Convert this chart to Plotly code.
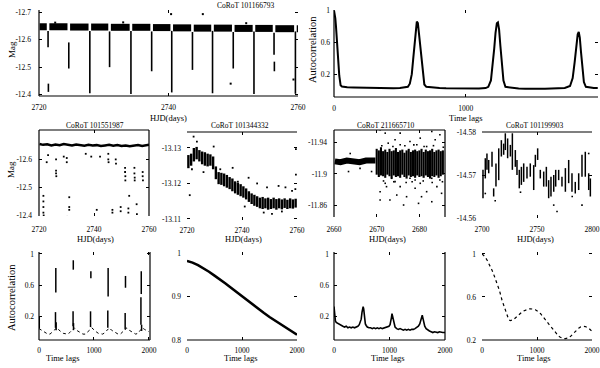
import plotly.graph_objects as go

FONT = 'Liberation Serif'
W, H = 600, 368

# ---- CoRoT 101166793 (top left): baseline pieces and eclipse dips ----
a_seg_start = [2720.1, 2721.6, 2724.8, 2728.05, 2731.1, 2734.4, 2737.6, 2740.7, 2743.9, 2747.0, 2750.2, 2753.4, 2756.5, 2759.8]
a_seg_end = [2721.2, 2724.4, 2727.65, 2730.7, 2734.0, 2737.2, 2740.3, 2743.5, 2746.6, 2749.8, 2753.0, 2756.1, 2759.4, 2760.0]
a_seg_mag = [-12.647, -12.647, -12.646, -12.646, -12.645, -12.645, -12.644, -12.643, -12.642, -12.642, -12.641, -12.641, -12.640, -12.640]
a_dip_t = [2721.4, 2721.45, 2724.6, 2727.85, 2730.9, 2734.2, 2737.4, 2740.5, 2743.7, 2746.8, 2750.0, 2753.2, 2756.3, 2756.35, 2759.6]
a_dip_top = [-12.632, -12.44, -12.59, -12.632, -12.63, -12.632, -12.63, -12.632, -12.628, -12.632, -12.628, -12.63, -12.625, -12.52, -12.63]
a_dip_bot = [-12.572, -12.41, -12.495, -12.405, -12.50, -12.402, -12.485, -12.408, -12.49, -12.405, -12.495, -12.402, -12.545, -12.485, -12.403]
a_pts_t = [2740.4, 2745.3, 2749.6, 2759.3, 2722.5, 2733.0, 2752.0]
a_pts_mag = [-12.693, -12.693, -12.440, -12.455, -12.662, -12.663, -12.660]

# ---- top right autocorrelation ----
b_lag = [0, 5, 10, 15, 20, 25, 30, 35, 40, 45,
         50, 60, 80, 100, 150, 200, 250, 300, 350, 400,
         450, 500, 540, 560, 575, 590, 600, 610, 620, 628,
         636, 645, 655, 665, 675, 685, 700, 750, 800, 850,
         900, 950, 1000, 1050, 1100, 1150, 1170, 1190, 1205, 1215,
         1225, 1235, 1243, 1252, 1262, 1272, 1285, 1300, 1350, 1400,
         1450, 1500, 1550, 1600, 1650, 1700, 1750, 1790, 1810, 1825,
         1838, 1848, 1856, 1864, 1873, 1883, 1895, 1910, 1940, 1970,
         2000]
b_acf = [1.0, 0.96, 0.9, 0.8, 0.7, 0.58, 0.44, 0.3, 0.18, 0.1,
         0.06, 0.045, 0.04, 0.035, 0.033, 0.03, 0.028, 0.025, 0.022, 0.022,
         0.024, 0.025, 0.03, 0.04, 0.08, 0.2, 0.38, 0.58, 0.76, 0.86,
         0.84, 0.7, 0.5, 0.3, 0.15, 0.07, 0.04, 0.03, 0.025, 0.022,
         0.02, 0.02, 0.022, 0.02, 0.02, 0.025, 0.04, 0.12, 0.32, 0.52,
         0.72, 0.84, 0.85, 0.76, 0.55, 0.33, 0.12, 0.04, 0.025, 0.018,
         0.015, 0.012, 0.012, 0.015, 0.018, 0.02, 0.025, 0.05, 0.15, 0.35,
         0.55, 0.7, 0.73, 0.66, 0.48, 0.28, 0.1, 0.04, 0.028, 0.025,
         0.025]

# ---- CoRoT 101551987 ----
c_band_t = [2720.2, 2721.5, 2723, 2724.5, 2726, 2727.5, 2729, 2730.5, 2732, 2733.5,
            2735, 2736.5, 2738, 2739.5, 2741, 2742.5, 2744, 2745.5, 2747, 2748.5,
            2750, 2751.5, 2753, 2754.5, 2756, 2757.5, 2759, 2760]
c_band_mag = [-12.655, -12.652, -12.654, -12.650, -12.653, -12.651, -12.655, -12.652, -12.650, -12.653,
              -12.651, -12.649, -12.652, -12.650, -12.651, -12.648, -12.650, -12.652, -12.649, -12.651,
              -12.648, -12.650, -12.647, -12.649, -12.651, -12.648, -12.650, -12.652]
c_pts_t = [2721.6, 2721.6, 2721.6, 2721.6, 2721.7, 2722.8, 2726.2, 2726.2, 2726.2, 2726.3,
           2730.1, 2730.1, 2731.0, 2731.0, 2731.0, 2730.3, 2741.0, 2742.2, 2745.2, 2745.2,
           2745.3, 2746.7, 2746.7, 2747.9, 2748.0, 2749.7, 2749.7, 2751.3, 2751.3, 2751.4,
           2751.4, 2752.8, 2752.5, 2752.5, 2754.7, 2754.7, 2754.8, 2754.8, 2755.5, 2755.6,
           2757.7, 2757.7, 2757.8, 2729.0, 2737.0, 2739.0, 2723.3]
c_pts_mag = [-12.47, -12.45, -12.43, -12.41, -12.40, -12.59, -12.60, -12.56, -12.55, -12.54,
             -12.605, -12.59, -12.465, -12.43, -12.42, -12.395, -12.42, -12.61, -12.62, -12.60,
             -12.59, -12.42, -12.41, -12.60, -12.585, -12.43, -12.415, -12.57, -12.555, -12.54,
             -12.525, -12.47, -12.425, -12.41, -12.57, -12.55, -12.535, -12.525, -12.44, -12.405,
             -12.555, -12.54, -12.525, -12.61, -12.62, -12.61, -12.615]

# ---- CoRoT 101344332: daily spread of the points ----
d_t = [2720.5, 2721.5, 2722.5, 2723.5, 2724.5, 2725.5, 2726.5, 2727.5, 2728.5, 2729.5,
       2730.5, 2731.5, 2732.5, 2733.5, 2734.5, 2735.5, 2736.5, 2737.5, 2738.5, 2739.5,
       2740.5, 2741.5, 2742.5, 2743.5, 2744.5, 2745.5, 2746.5, 2747.5, 2748.5, 2749.5,
       2750.5, 2751.5, 2752.5, 2753.5, 2754.5, 2755.5, 2756.5, 2757.5, 2758.5, 2759.5]
d_top = [-13.1280, -13.1284, -13.1300, -13.1303, -13.1294, -13.1290, -13.1288, -13.1284, -13.1282, -13.1276,
         -13.1248, -13.1232, -13.1230, -13.1228, -13.1224, -13.1218, -13.1214, -13.1206, -13.1202, -13.1198,
         -13.1192, -13.1186, -13.1178, -13.1172, -13.1168, -13.1164, -13.1160, -13.1162, -13.1158, -13.1160,
         -13.1156, -13.1160, -13.1156, -13.1158, -13.1155, -13.1158, -13.1154, -13.1158, -13.1155, -13.1157]
d_bot = [-13.1243, -13.1250, -13.1262, -13.1268, -13.1262, -13.1254, -13.1250, -13.1248, -13.1250, -13.1240,
         -13.1212, -13.1198, -13.1196, -13.1192, -13.1188, -13.1184, -13.1178, -13.1172, -13.1168, -13.1164,
         -13.1160, -13.1155, -13.1148, -13.1142, -13.1137, -13.1134, -13.1130, -13.1128, -13.1130, -13.1126,
         -13.1128, -13.1130, -13.1126, -13.1130, -13.1127, -13.1131, -13.1128, -13.1130, -13.1129, -13.1132]
d_pts_t = [2722.4, 2723.6, 2721.8, 2729.7, 2732.1, 2736.6, 2742.4, 2745.5, 2749.1, 2753.3, 2755.8,
           2758.2, 2759.4, 2747.9, 2750.9, 2754.5, 2721.0, 2759.6, 2759.6, 2726.0, 2738.5, 2741.0]
d_pts_mag = [-13.1332, -13.1318, -13.1240, -13.1304, -13.1240, -13.1244, -13.1216, -13.1200, -13.1189, -13.1193, -13.1189,
             -13.1179, -13.1184, -13.1118, -13.1114, -13.1121, -13.1167, -13.1297, -13.1225, -13.1232, -13.1205, -13.1135]

# ---- CoRoT 211665710 ----
e1_t = [2660.2, 2661.5, 2663, 2664.5, 2666, 2667.5, 2669, 2669.7]
e1_mag = [-11.916, -11.915, -11.917, -11.916, -11.915, -11.917, -11.916, -11.917]
e2_t = [2670.0, 2670.5, 2671.0, 2671.5, 2672.0, 2672.5, 2673.0, 2673.5, 2674.0, 2674.5,
        2675.0, 2675.5, 2676.0, 2676.5, 2677.0, 2677.5, 2678.0, 2678.5, 2679.0, 2679.5,
        2680.0, 2680.5, 2681.0, 2681.5, 2682.0, 2682.5, 2683.0, 2683.5, 2684.0, 2684.5,
        2685.0, 2685.5]
e2_top = [-11.932, -11.930, -11.934, -11.929, -11.931, -11.928, -11.932, -11.929, -11.930, -11.933,
          -11.928, -11.930, -11.931, -11.927, -11.930, -11.932, -11.928, -11.930, -11.931, -11.929,
          -11.930, -11.932, -11.928, -11.931, -11.929, -11.930, -11.932, -11.928, -11.930, -11.931,
          -11.929, -11.930]
e2_bot = [-11.899, -11.896, -11.898, -11.897, -11.895, -11.899, -11.897, -11.894, -11.898, -11.896,
          -11.897, -11.895, -11.899, -11.896, -11.894, -11.898, -11.896, -11.897, -11.895, -11.898,
          -11.896, -11.897, -11.895, -11.898, -11.896, -11.894, -11.897, -11.896, -11.898, -11.895,
          -11.897, -11.899]
e_pts_t = [2670.8, 2672.0, 2675.5, 2677.8, 2680.2, 2682.9, 2683.7, 2684.8, 2672.7, 2674.3,
           2679.4, 2681.7, 2675.5, 2670.8, 2672.0, 2673.1, 2674.3, 2675.5, 2677.0, 2677.8,
           2679.0, 2680.2, 2681.7, 2682.9, 2684.1, 2685.2, 2679.8, 2676.3, 2672.3, 2670.8,
           2684.8, 2673.5, 2682.9, 2679.0, 2680.5, 2674.7, 2671.2, 2673.8, 2676.6, 2678.7,
           2681.1, 2683.3, 2685.6, 2671.6, 2674.0, 2676.9, 2678.3, 2680.9, 2683.0, 2685.4,
           2663.4, 2666.1, 2668.8, 2663.8]
e_pts_mag = [-11.9563, -11.9520, -11.9520, -11.9413, -11.9456, -11.9541, -11.9435, -11.9499, -11.9392, -11.9435,
             -11.9371, -11.9349, -11.9371, -11.8773, -11.8880, -11.8667, -11.8901, -11.8837, -11.8709, -11.8944,
             -11.8816, -11.8880, -11.8773, -11.8645, -11.8837, -11.8752, -11.8624, -11.8603, -11.8837, -11.8667,
             -11.8923, -11.8944, -11.8944, -11.8923, -11.8709, -11.8730, -11.936, -11.935, -11.936, -11.937,
             -11.935, -11.936, -11.934, -11.891, -11.890, -11.889, -11.890, -11.891, -11.889, -11.890,
             -11.903, -11.907, -11.903, -11.926]

# ---- CoRoT 101199903 ----
f_t = [2700.9, 2703.0, 2704.5, 2706.1, 2709.1, 2710.6, 2712.7, 2715.2, 2717.6, 2719.7,
       2721.2, 2723.3, 2725.8, 2727.6, 2730.3, 2731.8, 2733.9, 2735.8, 2737.9, 2740.9,
       2743.9, 2747.0, 2748.5, 2750.6, 2753.0, 2756.1, 2758.5, 2760.6, 2762.7, 2765.2,
       2767.0, 2769.7, 2772.7, 2775.8, 2778.8, 2781.8, 2784.8, 2787.9, 2790.9, 2793.9,
       2797.0, 2798.5]
f_top = [-14.5712, -14.5739, -14.5750, -14.5735, -14.5754, -14.5669, -14.5727, -14.5762, -14.5781, -14.5773,
         -14.5797, -14.5785, -14.5770, -14.5797, -14.5758, -14.5735, -14.5712, -14.5719, -14.5727, -14.5719,
         -14.5727, -14.5723, -14.5747, -14.5762, -14.5712, -14.5708, -14.5719, -14.5688, -14.5696, -14.5700,
         -14.5712, -14.5712, -14.5696, -14.5716, -14.5735, -14.5704, -14.5684, -14.5704, -14.5747, -14.5754,
         -14.5704, -14.5692]
f_bot = [-14.5646, -14.5692, -14.5712, -14.5704, -14.5719, -14.5650, -14.5673, -14.5688, -14.5743, -14.5747,
         -14.5758, -14.5739, -14.5743, -14.5712, -14.5719, -14.5700, -14.5669, -14.5677, -14.5684, -14.5692,
         -14.5696, -14.5665, -14.5719, -14.5735, -14.5692, -14.5673, -14.5673, -14.5646, -14.5650, -14.5661,
         -14.5673, -14.5688, -14.5673, -14.5661, -14.5681, -14.5661, -14.5657, -14.5665, -14.5696, -14.5696,
         -14.5665, -14.5650]
f_pts_t = [2765.2, 2768.2, 2790.9, 2797.0, 2703.0, 2712.0, 2735.0, 2782.0]
f_pts_mag = [-14.5630, -14.5615, -14.5630, -14.5750, -14.5657, -14.5640, -14.5660, -14.5650]

# ---- bottom row autocorrelations ----
g_base_lag = [0, 40, 80, 120, 160, 200, 240, 280, 320, 360,
              400, 440, 480, 520, 560, 600, 640, 680, 720, 760,
              800, 840, 880, 920, 960, 1000, 1040, 1080, 1120, 1160,
              1200, 1240, 1280, 1320, 1360, 1400, 1440, 1480, 1520, 1560,
              1600, 1640, 1680, 1720, 1760, 1800, 1840, 1880, 1920, 1960,
              2000]
g_base_acf = [0.05, 0.03, 0.01, -0.01, -0.02, -0.02, 0.0, 0.03, 0.06, 0.03,
              0.01, -0.01, -0.02, -0.02, 0.0, 0.03, 0.06, 0.03, 0.01, -0.01,
              -0.02, -0.02, 0.0, 0.03, 0.06, 0.03, 0.01, -0.01, -0.02, -0.02,
              0.0, 0.03, 0.06, 0.03, 0.01, -0.01, -0.02, -0.02, 0.01, 0.04,
              0.06, 0.03, 0.01, -0.01, -0.02, -0.01, 0.03, 0.06, 0.04, 0.02,
              0.01]
g_sp_lag = [5, 300, 306, 312, 620, 624, 628, 938, 944, 1252, 1258, 1568, 1574, 1855, 1861, 1867]
g_sp_lo = [0.05, 0.06, 0.51, 0.03, 0.08, 0.80, 0.03, 0.07, 0.69, 0.06, 0.46, 0.04, 0.57, 0.10, 0.49, 0.02]
g_sp_hi = [0.21, 0.26, 0.82, 0.13, 0.27, 0.92, 0.12, 0.27, 0.78, 0.28, 0.82, 0.25, 0.72, 0.45, 0.78, 0.10]

h_lag = [0, 100, 200, 300, 400, 500, 600, 700, 800, 900, 1000,
         1100, 1200, 1300, 1400, 1500, 1600, 1700, 1800, 1900, 2000]
h_acf = [0.982, 0.978, 0.972, 0.965, 0.957, 0.948, 0.940, 0.930, 0.920, 0.910, 0.900,
         0.890, 0.881, 0.872, 0.862, 0.853, 0.845, 0.836, 0.828, 0.820, 0.812]

i_lag = [0, 8, 16, 25, 40, 60, 80, 100, 130, 160,
         190, 220, 250, 280, 310, 340, 370, 400, 430, 455,
         475, 490, 505, 515, 525, 535, 545, 555, 565, 580,
         600, 630, 660, 690, 720, 750, 780, 810, 840, 870,
         900, 930, 960, 990, 1010, 1025, 1035, 1045, 1055, 1065,
         1080, 1100, 1130, 1160, 1190, 1220, 1250, 1280, 1310, 1340,
         1370, 1400, 1430, 1460, 1490, 1520, 1545, 1565, 1580, 1590,
         1600, 1615, 1635, 1660, 1690, 1720, 1750, 1780, 1810, 1840,
         1870, 1900, 1930, 1960, 2000]
i_acf = [0.33, 0.22, 0.17, 0.15, 0.13, 0.12, 0.11, 0.10, 0.09, 0.08,
         0.07, 0.08, 0.06, 0.07, 0.06, 0.07, 0.06, 0.07, 0.08, 0.10,
         0.13, 0.17, 0.26, 0.31, 0.33, 0.30, 0.22, 0.15, 0.11, 0.09,
         0.07, 0.06, 0.06, 0.05, 0.06, 0.05, 0.06, 0.05, 0.06, 0.05,
         0.06, 0.06, 0.07, 0.08, 0.10, 0.14, 0.19, 0.24, 0.21, 0.15,
         0.10, 0.07, 0.05, 0.04, 0.05, 0.04, 0.03, 0.04, 0.03, 0.04,
         0.03, 0.04, 0.04, 0.05, 0.06, 0.08, 0.11, 0.16, 0.21, 0.22,
         0.19, 0.13, 0.08, 0.05, 0.03, 0.02, 0.01, 0.00, 0.01, 0.00,
         0.00, 0.01, 0.00, 0.00, 0.00]

j_lag = [0, 45, 91, 136, 182, 227, 273, 318, 364, 394,
         424, 455, 485, 515, 545, 576, 606, 636, 667, 697,
         727, 758, 788, 818, 848, 879, 909, 939, 970, 1000,
         1030, 1061, 1091, 1121, 1152, 1182, 1212, 1242, 1273, 1303,
         1333, 1364, 1394, 1424, 1455, 1485, 1515, 1545, 1576, 1606,
         1636, 1667, 1697, 1727, 1758, 1788, 1818, 1848, 1879, 1909,
         1939, 1970, 2000]
j_acf = [1.0, 0.98, 0.944, 0.90, 0.85, 0.79, 0.73, 0.66, 0.57, 0.52,
         0.47, 0.42, 0.39, 0.38, 0.382, 0.39, 0.405, 0.42, 0.435, 0.45,
         0.46, 0.47, 0.478, 0.484, 0.488, 0.49, 0.49, 0.487, 0.482, 0.475,
         0.462, 0.447, 0.43, 0.41, 0.39, 0.37, 0.35, 0.33, 0.31, 0.29,
         0.27, 0.25, 0.235, 0.225, 0.217, 0.213, 0.213, 0.215, 0.22, 0.232,
         0.248, 0.265, 0.283, 0.298, 0.31, 0.32, 0.325, 0.327, 0.325, 0.32,
         0.31, 0.295, 0.28]


def vsegs(t, lo, hi):
    xs, ys = [], []
    for ti, a, b in zip(t, lo, hi):
        xs += [ti, ti, None]
        ys += [a, b, None]
    return xs, ys


def hsegs(t0, t1, m):
    xs, ys = [], []
    for a, b, v in zip(t0, t1, m):
        xs += [a, b, None]
        ys += [v, v, None]
    return xs, ys


# panel boxes in pixels (left, right, top, bottom), ranges, ticks, visible borders
panels = {
    1: dict(box=(39, 298, 10, 96), xr=[2720, 2760], yr=[-12.395, -12.708],
            xt=[2720, 2740, 2760], yt=[-12.7, -12.6, -12.5, -12.4], sides='lb', xs=5, ys=7),
    2: dict(box=(334, 598, 10, 97), xr=[0, 2002], yr=[-0.0875, 1.006],
            xt=[0, 1000, 2000], yt=[1, 0.6, 0.2], sides='lb', xs=5, ys=3),
    3: dict(box=(39, 149, 130, 216), xr=[2720, 2760], yr=[-12.398, -12.705],
            xt=[2720, 2740, 2760], yt=[-12.6, -12.5, -12.4], sides='ltr', xs=7, ys=6),
    4: dict(box=(187, 297, 132, 220), xr=[2720, 2760], yr=[-13.1097, -13.1345],
            xt=[2720, 2740, 2760], yt=[-13.13, -13.12, -13.11], sides='t', xs=4, ys=5),
    5: dict(box=(334, 445, 130, 217), xr=[2660, 2686], yr=[-11.845, -11.956],
            xt=[2660, 2670, 2680], yt=[-11.94, -11.9, -11.86], sides='ltr', xs=6, ys=6),
    6: dict(box=(482, 592, 132, 218), xr=[2700, 2800], yr=[-14.56, -14.58],
            xt=[2700, 2750, 2800], yt=[-14.58, -14.57, -14.56], sides='t', xs=5, ys=5),
    7: dict(box=(39, 150, 252, 340), xr=[0, 2020], yr=[-0.095, 1.025],
            xt=[0, 1000, 2000], yt=[1, 0.6, 0.2], sides='lbr', xs=4, ys=4),
    8: dict(box=(187, 297, 252, 340), xr=[0, 2000], yr=[0.8, 1.0023],
            xt=[0, 1000, 2000], yt=[1, 0.9, 0.8], sides='b', xs=4, ys=5),
    9: dict(box=(334, 445, 252, 340), xr=[0, 2000], yr=[-0.095, 1.025],
            xt=[0, 1000, 2000], yt=[1, 0.6, 0.2], sides='lbr', xs=4, ys=4),
    10: dict(box=(482, 592, 252, 340), xr=[0, 2000], yr=[0.2, 1.0185],
             xt=[0, 1000, 2000], yt=[1, 0.6, 0.2], sides='b', xs=4, ys=5),
}


def ax(k, letter):
    return letter if k == 1 else f'{letter}{k}'


fig = go.Figure()
BLACK = 'black'


def line(k, x, y, width=1.5, dash=None):
    fig.add_trace(go.Scatter(x=x, y=y, mode='lines', xaxis=ax(k, 'x'), yaxis=ax(k, 'y'),
                             line=dict(color=BLACK, width=width, dash=dash),
                             connectgaps=False, showlegend=False, hoverinfo='skip'))


def dots(k, x, y, size=2):
    fig.add_trace(go.Scatter(x=x, y=y, mode='markers', xaxis=ax(k, 'x'), yaxis=ax(k, 'y'),
                             marker=dict(color=BLACK, size=size, symbol='square', line=dict(width=0)),
                             showlegend=False, hoverinfo='skip'))


# 1 light curve
x, y = hsegs(a_seg_start, a_seg_end, a_seg_mag)
line(1, x, y, width=7)
x, y = vsegs(a_dip_t, a_dip_top, a_dip_bot)
line(1, x, y, width=1.6)
dots(1, a_pts_t, a_pts_mag)
# 2 autocorrelation
line(2, b_lag, b_acf, width=2)
# 3
line(3, c_band_t, c_band_mag, width=2.5)
dots(3, c_pts_t, c_pts_mag, size=1.8)
# 4
x, y = vsegs(d_t, d_top, d_bot)
line(4, x, y, width=2.4)
dots(4, d_pts_t, d_pts_mag, size=1.8)
# 5
line(5, e1_t, e1_mag, width=6)
x, y = vsegs(e2_t, e2_top, e2_bot)
line(5, x, y, width=2.1)
dots(5, e_pts_t, e_pts_mag, size=1.6)
# 6
x, y = vsegs(f_t, f_top, f_bot)
line(6, x, y, width=1.5)
dots(6, f_pts_t, f_pts_mag, size=1.6)
# 7
line(7, g_base_lag, g_base_acf, width=1, dash='dot')
x, y = vsegs(g_sp_lag, g_sp_lo, g_sp_hi)
line(7, x, y, width=1.5)
# 8
line(8, h_lag, h_acf, width=2.5)
# 9
line(9, i_lag, i_acf, width=1.6)
# 10
line(10, j_lag, j_acf, width=1.2, dash='dot')

layout = dict(width=W, height=H, margin=dict(l=0, r=0, t=0, b=0, autoexpand=False),
              paper_bgcolor='white', plot_bgcolor='white',
              font=dict(family=FONT, color=BLACK), showlegend=False)
tickfont = dict(family=FONT, size=7.5, color=BLACK)

shapes = []
for k, p in panels.items():
    l, r, t, b = p['box']
    common = dict(ticks='inside', ticklen=3, tickwidth=1, tickcolor=BLACK, showgrid=False,
                  zeroline=False, showline=False, mirror='ticks', tickfont=tickfont,
                  automargin=False)
    layout['xaxis' if k == 1 else f'xaxis{k}'] = dict(
        domain=[l / W, r / W], range=p['xr'], anchor=ax(k, 'y'),
        tickvals=p['xt'], ticktext=[f'{v:g}' for v in p['xt']], ticklabelstandoff=p['xs'], **common)
    layout['yaxis' if k == 1 else f'yaxis{k}'] = dict(
        domain=[1 - b / H, 1 - t / H], range=p['yr'], anchor=ax(k, 'x'),
        tickvals=p['yt'], ticktext=[f'{v:g}' for v in p['yt']], ticklabelstandoff=p['ys'], **common)
    xref, yref = ax(k, 'x') + ' domain', ax(k, 'y') + ' domain'
    ends = {'l': (0, 0, 0, 1), 'r': (1, 0, 1, 1), 't': (0, 1, 1, 1), 'b': (0, 0, 1, 0)}
    for s in p['sides']:
        x0, y0, x1, y1 = ends[s]
        shapes.append(dict(type='line', xref=xref, yref=yref, x0=x0, y0=y0, x1=x1, y1=y1,
                           line=dict(color=BLACK, width=1.2)))
layout['shapes'] = shapes

# texts: (text, x px, y px, size, angle)
labels = [
    ('CoRoT 101166793', 246, 5, 7.5, 0),
    ('CoRoT 101551987', 95, 125, 7.5, 0),
    ('CoRoT 101344332', 240, 125, 7.5, 0),
    ('CoRoT 211665710', 386, 125, 7.5, 0),
    ('CoRoT 101199903', 535, 125, 7.5, 0),
    ('Mag', 12, 50, 9, -90),
    ('Mag', 11, 170, 9, -90),
    ('Autocorrelation', 312, 50, 10.5, -90),
    ('Autocorrelation', 11, 298, 10.5, -90),
    ('HJD(days)', 168, 118, 8.5, 0),
    ('HJD(days)', 95, 239, 8.5, 0),
    ('HJD(days)', 243, 239, 8.5, 0),
    ('HJD(days)', 388, 239, 8.5, 0),
    ('HJD(days)', 535, 239, 8.5, 0),
    ('Time lags', 466, 118, 8.5, 0),
    ('Time lags', 62, 358, 8.5, 0),
    ('Time lags', 240, 358, 8.5, 0),
    ('Time lags', 387, 358, 8.5, 0),
    ('Time lags', 533, 358, 8.5, 0),
]
layout['annotations'] = [
    dict(text=tx, x=px / W, y=1 - py / H, xref='paper', yref='paper', showarrow=False,
         xanchor='center', yanchor='middle', textangle=ang,
         font=dict(family=FONT, size=sz, color=BLACK))
    for tx, px, py, sz, ang in labels
]

fig.update_layout(**layout)
# the page body has a default 8px margin; drop it so the figure sits at the window corner
fig.write_html('out.html', config={'displayModeBar': False},
               post_script="document.body.style.margin='0';document.body.style.overflow='hidden';")
